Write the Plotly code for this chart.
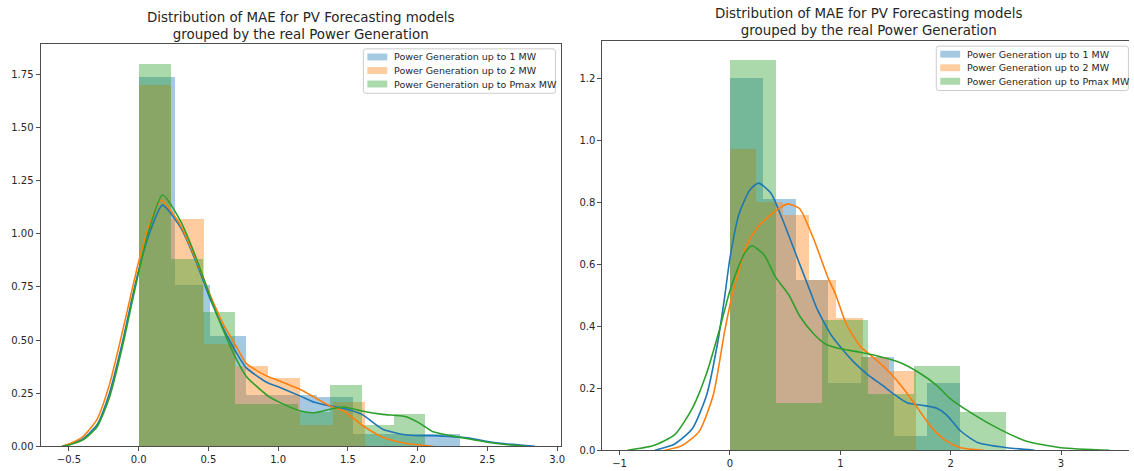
import plotly.graph_objects as go

# ---------------- data ----------------
series_names = [
    "Power Generation up to 1 MW",
    "Power Generation up to 2 MW",
    "Power Generation up to Pmax MW",
]

# left panel: histogram bin edges and densities
left_blue_edges = [0.0, 0.256, 0.511, 0.767, 1.022, 1.278, 1.533, 1.789, 2.044, 2.300]
left_blue_heights = [1.74, 0.76, 0.52, 0.24, 0.24, 0.23, 0.06, 0.06, 0.06]
left_orange_edges = [0.0, 0.231, 0.462, 0.693, 0.924, 1.155, 1.386, 1.617]
left_orange_heights = [1.70, 1.07, 0.48, 0.38, 0.32, 0.10, 0.21]
left_green_edges = [0.0, 0.228, 0.456, 0.684, 0.912, 1.140, 1.368, 1.596, 1.824, 2.052]
left_green_heights = [1.80, 0.88, 0.63, 0.20, 0.20, 0.16, 0.29, 0.10, 0.15]

# left panel: kernel density curves
left_blue_kde_x = [-0.55, -0.5, -0.4, -0.3, -0.21, -0.12, -0.05, 0.0, 0.07, 0.17, 0.30, 0.41, 0.52,
                   0.61, 0.70, 0.77, 0.92, 1.0, 1.16, 1.26, 1.37, 1.47, 1.60, 1.75, 1.91, 2.01,
                   2.11, 2.24, 2.37, 2.5, 2.63, 2.84]
left_blue_kde_y = [0.0, 0.008, 0.035, 0.10, 0.25, 0.48, 0.69, 0.83, 0.99, 1.135, 1.03, 0.87, 0.68,
                   0.55, 0.44, 0.37, 0.30, 0.28, 0.236, 0.207, 0.19, 0.178, 0.15, 0.08, 0.054, 0.05,
                   0.05, 0.045, 0.039, 0.022, 0.011, 0.0]
left_orange_kde_x = [-0.55, -0.5, -0.4, -0.3, -0.21, -0.12, -0.05, 0.0, 0.07, 0.16, 0.30, 0.41, 0.52,
                     0.61, 0.70, 0.77, 0.92, 1.0, 1.16, 1.26, 1.37, 1.47, 1.60, 1.75, 1.91, 2.01, 2.11]
left_orange_kde_y = [0.0, 0.01, 0.045, 0.125, 0.29, 0.53, 0.73, 0.87, 1.03, 1.158, 1.04, 0.88, 0.70,
                     0.57, 0.47, 0.39, 0.33, 0.31, 0.267, 0.23, 0.19, 0.166, 0.10, 0.042, 0.014, 0.006, 0.0]
left_green_kde_x = [-0.55, -0.5, -0.4, -0.3, -0.21, -0.12, -0.05, 0.0, 0.07, 0.17, 0.30, 0.41, 0.52,
                    0.61, 0.70, 0.77, 0.92, 1.0, 1.16, 1.26, 1.37, 1.47, 1.60, 1.75, 1.91, 2.01,
                    2.11, 2.24, 2.37, 2.5, 2.63, 2.78]
left_green_kde_y = [0.0, 0.006, 0.03, 0.09, 0.23, 0.46, 0.67, 0.82, 1.01, 1.183, 1.06, 0.89, 0.69,
                    0.54, 0.41, 0.33, 0.24, 0.21, 0.166, 0.158, 0.174, 0.185, 0.166, 0.15, 0.14, 0.11,
                    0.068, 0.05, 0.034, 0.019, 0.008, 0.0]

# right panel: histogram bin edges and densities
right_blue_edges = [0.0, 0.298, 0.597, 0.895, 1.194, 1.492, 1.790, 2.089]
right_blue_heights = [1.20, 0.81, 0.55, 0.216, 0.30, 0.045, 0.215]
right_orange_edges = [0.0, 0.241, 0.482, 0.723, 0.964, 1.205, 1.446, 1.687]
right_orange_heights = [0.97, 0.80, 0.76, 0.55, 0.425, 0.30, 0.255]
right_green_edges = [0.0, 0.417, 0.834, 1.251, 1.668, 2.085, 2.502]
right_green_heights = [1.258, 0.152, 0.42, 0.18, 0.271, 0.122]

# right panel: kernel density curves
right_blue_kde_x = [-0.68, -0.5, -0.34, -0.21, -0.11, -0.05, 0.0, 0.08, 0.18, 0.26, 0.37, 0.47, 0.6,
                    0.73, 0.79, 0.92, 1.02, 1.12, 1.25, 1.38, 1.48, 1.61, 1.74, 1.87, 1.96, 2.09,
                    2.25, 2.51, 2.76]
right_blue_kde_y = [0.0, 0.02, 0.07, 0.18, 0.35, 0.49, 0.62, 0.76, 0.84, 0.862, 0.83, 0.75, 0.63,
                    0.51, 0.455, 0.37, 0.325, 0.285, 0.243, 0.21, 0.182, 0.152, 0.145, 0.136, 0.115,
                    0.062, 0.024, 0.008, 0.0]
right_orange_kde_x = [-0.59, -0.44, -0.28, -0.15, -0.05, 0.02, 0.05, 0.15, 0.24, 0.37, 0.47, 0.525,
                      0.63, 0.76, 0.89, 0.96, 1.05, 1.18, 1.31, 1.44, 1.57, 1.70, 1.83, 1.96, 2.09, 2.30]
right_orange_kde_y = [0.0, 0.014, 0.06, 0.18, 0.38, 0.50, 0.54, 0.66, 0.715, 0.76, 0.786, 0.795,
                      0.78, 0.68, 0.555, 0.50, 0.41, 0.335, 0.296, 0.253, 0.20, 0.136, 0.072, 0.03,
                      0.008, 0.0]
right_green_kde_x = [-0.93, -0.70, -0.50, -0.34, -0.21, -0.11, -0.05, 0.0, 0.08, 0.14, 0.20, 0.31,
                     0.41, 0.535, 0.63, 0.76, 0.86, 0.99, 1.18, 1.38, 1.54, 1.70, 1.87, 1.99, 2.16,
                     2.42, 2.68, 3.0, 3.44]
right_green_kde_y = [0.0, 0.014, 0.05, 0.136, 0.25, 0.37, 0.45, 0.515, 0.595, 0.64, 0.66, 0.63,
                     0.56, 0.50, 0.434, 0.375, 0.344, 0.328, 0.316, 0.30, 0.283, 0.253, 0.21, 0.168,
                     0.126, 0.072, 0.03, 0.008, 0.0]

left_x_ticks = [-0.5, 0.0, 0.5, 1.0, 1.5, 2.0, 2.5, 3.0]
left_y_ticks = [0.0, 0.25, 0.5, 0.75, 1.0, 1.25, 1.5, 1.75]
right_x_ticks = [-1, 0, 1, 2, 3]
right_y_ticks = [0.0, 0.2, 0.4, 0.6, 0.8, 1.0, 1.2]

title_text = "Distribution of MAE for PV Forecasting models<br>grouped by the real Power Generation"

# ---------------- styling ----------------
W, H = 1134, 471
FONT = "DejaVu Sans"
TEXT_COLOR = "#262626"
SPINE = "#4d4d4d"
colors = ["#1f77b4", "#ff7f0e", "#2ca02c"]
HIST_ALPHA = 0.4


def rgba(hex_color, a):
    h = hex_color.lstrip("#")
    r, g, b = int(h[0:2], 16), int(h[2:4], 16), int(h[4:6], 16)
    return f"rgba({r},{g},{b},{a})"


def px_x(p):
    return p / W


def px_y(p):
    return 1 - p / H


fig = go.Figure()

panels = [
    dict(xa="x", ya="y",
         hists=[(left_blue_edges, left_blue_heights), (left_orange_edges, left_orange_heights),
                (left_green_edges, left_green_heights)],
         kdes=[(left_blue_kde_x, left_blue_kde_y), (left_orange_kde_x, left_orange_kde_y),
               (left_green_kde_x, left_green_kde_y)]),
    dict(xa="x2", ya="y2",
         hists=[(right_blue_edges, right_blue_heights), (right_orange_edges, right_orange_heights),
                (right_green_edges, right_green_heights)],
         kdes=[(right_blue_kde_x, right_blue_kde_y), (right_orange_kde_x, right_orange_kde_y),
               (right_green_kde_x, right_green_kde_y)]),
]

for panel in panels:
    for i, ((edges, heights), (kx, ky)) in enumerate(zip(panel["hists"], panel["kdes"])):
        widths = [b - a for a, b in zip(edges[:-1], edges[1:])]
        fig.add_trace(go.Bar(
            x=edges[:-1], y=heights, width=widths, offset=0,
            marker=dict(color=colors[i], opacity=HIST_ALPHA, line=dict(width=0)),
            name=series_names[i], xaxis=panel["xa"], yaxis=panel["ya"], showlegend=False,
        ))
        fig.add_trace(go.Scatter(
            x=kx, y=ky, mode="lines",
            line=dict(color=colors[i], width=1.6, shape="spline", smoothing=0.6),
            name=series_names[i], xaxis=panel["xa"], yaxis=panel["ya"], showlegend=False,
        ))

axis_common = dict(
    showgrid=False, zeroline=False, showline=True, linecolor=SPINE, linewidth=1,
    ticks="outside", ticklen=4, tickwidth=1, tickcolor=SPINE,
    tickfont=dict(family=FONT, size=10, color=TEXT_COLOR),
)

# pixel frames of the two plotting areas
L_LEFT, L_RIGHT, L_TOP, L_BOTTOM = 40.7, 563.0, 44.5, 452.0
R_LEFT, R_RIGHT, R_TOP, R_BOTTOM = 605.0, 1134.0, 41.7, 456.0

fig.update_layout(
    width=W, height=H, margin=dict(l=0, r=0, t=0, b=0),
    paper_bgcolor="white", plot_bgcolor="white",
    barmode="overlay", bargap=0, showlegend=False,
    font=dict(family=FONT, color=TEXT_COLOR),
    xaxis=dict(domain=[px_x(L_LEFT), px_x(L_RIGHT)], range=[-0.704, 3.024], mirror=True,
               tickvals=left_x_ticks, tickformat=".1f", anchor="y", **axis_common),
    yaxis=dict(domain=[px_y(L_BOTTOM), px_y(L_TOP)], range=[0, 1.894], mirror=True,
               tickvals=left_y_ticks, tickformat=".2f", anchor="x", **axis_common),
    xaxis2=dict(domain=[px_x(R_LEFT), px_x(R_RIGHT)], range=[-1.1565, 3.6157], mirror=True,
                tickvals=right_x_ticks, tickformat="d", anchor="y2", **axis_common),
    yaxis2=dict(domain=[px_y(R_BOTTOM), px_y(R_TOP)], range=[0, 1.32], mirror=False,
                tickvals=right_y_ticks, tickformat=".1f", anchor="x2", **axis_common),
)

# titles
for cx, cy in [((L_LEFT + L_RIGHT) / 2, 26.2), ((R_LEFT + 1139) / 2, 22.7)]:
    fig.add_annotation(
        text=title_text, x=px_x(cx), y=px_y(cy), xref="paper", yref="paper",
        xanchor="center", yanchor="middle", showarrow=False, align="center",
        font=dict(family=FONT, size=13.4, color=TEXT_COLOR),
    )


def rounded_rect_path(x0, y0, x1, y1, r):
    pts = [
        ("M", [(x0 + r, y0)]), ("L", [(x1 - r, y0)]), ("Q", [(x1, y0), (x1, y0 + r)]),
        ("L", [(x1, y1 - r)]), ("Q", [(x1, y1), (x1 - r, y1)]), ("L", [(x0 + r, y1)]),
        ("Q", [(x0, y1), (x0, y1 - r)]), ("L", [(x0, y0 + r)]), ("Q", [(x0, y0), (x0 + r, y0)]),
    ]
    out = []
    for cmd, coords in pts:
        out.append(cmd + " ".join(f"{px_x(a):.6f},{px_y(b):.6f}" for a, b in coords))
    return " ".join(out) + " Z"


# legends (upper right of each panel)
LEG_W, LEG_H, ROW = 193.0, 45.0, 13.7
for right_edge, top_edge in [(L_RIGHT - 5, L_TOP + 5), (R_RIGHT - 0.6, R_TOP + 5)]:
    x0 = right_edge - LEG_W
    fig.add_shape(type="path", path=rounded_rect_path(x0, top_edge, right_edge, top_edge + LEG_H, 2.5),
                  xref="paper", yref="paper", line=dict(color="#cccccc", width=1),
                  fillcolor="rgba(255,255,255,0.8)", layer="above")
    for i, name in enumerate(series_names):
        cy = top_edge + 8.2 + i * ROW
        fig.add_shape(type="rect", x0=px_x(x0 + 4), x1=px_x(x0 + 24),
                      y0=px_y(cy - 3.5), y1=px_y(cy + 3.5), xref="paper", yref="paper",
                      line=dict(width=0), fillcolor=rgba(colors[i], HIST_ALPHA), layer="above")
        fig.add_annotation(text=name, x=px_x(x0 + 29), y=px_y(cy), xref="paper", yref="paper",
                           xanchor="left", yanchor="middle", showarrow=False,
                           font=dict(family=FONT, size=9.5, color=TEXT_COLOR))

fig.write_html("out.html")
